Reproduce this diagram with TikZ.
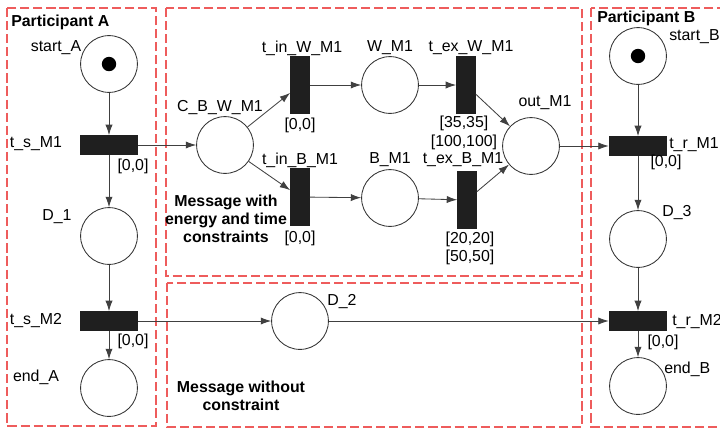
\documentclass[tikz,border=0pt]{standalone}
\usepackage{fontspec}
\setmainfont{Liberation Sans}
\usetikzlibrary{arrows.meta}

\definecolor{zonered}{RGB}{238,92,92}

\tikzset{
  place/.style={circle, draw=black!80, line width=0.6pt, minimum size=1.42cm, inner sep=0pt},
  token/.style={circle, fill=black, minimum size=0.36cm, inner sep=0pt},
  htrans/.style={rectangle, fill=black!88, minimum width=1.45cm, minimum height=0.48cm, inner sep=0pt},
  vtrans/.style={rectangle, fill=black!88, minimum width=0.48cm, minimum height=1.43cm, inner sep=0pt},
  lbl/.style={inner sep=0pt, font=\fontsize{11.3}{13.5}\selectfont},
  zonetitle/.style={inner sep=0pt, font=\fontsize{11.3}{13}\selectfont\bfseries, align=center},
  arc/.style={-{Latex[length=2.6mm,width=1.8mm]}, draw=black!75, line width=0.6pt},
  zone/.style={draw=zonered, line width=0.8pt, dash pattern=on 6.5pt off 2.8pt},
}

\begin{document}
\begin{tikzpicture}[x=0.025cm, y=-0.025cm]
    \clip (0,0) rectangle (720,429);

    % zones
    \draw[zone] (7,8) rectangle (156,426);
    \draw[zone] (166,8) rectangle (582,276);
    \draw[zone] (167,283) rectangle (582,427);
    \draw[zone] (591,8) rectangle (730,427);

    \node[zonetitle, anchor=west] (titleA) at (11,22) {Participant A};
    \node[zonetitle, anchor=west] (titleB) at (597,18) {Participant B};
    \node[zonetitle] (titleMT) at (226,219) {Message with\\energy and time\\constraints};
    \node[zonetitle] (titleMB) at (241,396) {Message without\\constraint};

    % participant A
    \node[place] (start_A) at (109,64) {};
    \node[token] (tok_A) at (start_A) {};
    \node[htrans] (t_s_M1) at (109,145) {};
    \node[place] (D_1) at (109,236) {};
    \node[htrans] (t_s_M2) at (109,321) {};
    \node[place] (end_A) at (109,388) {};

    \node[lbl] (l_start_A) at (56,48) {start\_A};
    \node[lbl] (l_t_s_M1) at (36,144) {t\_s\_M1};
    \node[lbl] (i_t_s_M1) at (133,166) {[0,0]};
    \node[lbl] (l_D_1) at (57,217) {D\_1};
    \node[lbl] (l_t_s_M2) at (36,321) {t\_s\_M2};
    \node[lbl] (i_t_s_M2) at (133,341) {[0,0]};
    \node[lbl] (l_end_A) at (36,377) {end\_A};

    % message with constraints
    \node[place] (C_B_W_M1) at (225,145) {};
    \node[vtrans] (t_in_W_M1) at (300,85) {};
    \node[place] (W_M1) at (390,85) {};
    \node[vtrans] (t_ex_W_M1) at (466,85) {};
    \node[vtrans] (t_in_B_M1) at (300,197) {};
    \node[place] (B_M1) at (390,198) {};
    \node[vtrans] (t_ex_B_M1) at (467,200) {};
    \node[place] (out_M1) at (531,146) {};

    \node[lbl] (l_C_B_W_M1) at (220,108) {C\_B\_W\_M1};
    \node[lbl] (l_t_in_W_M1) at (302,48) {t\_in\_W\_M1};
    \node[lbl] (i_t_in_W_M1) at (300,125) {[0,0]};
    \node[lbl] (l_W_M1) at (390,48) {W\_M1};
    \node[lbl] (l_t_ex_W_M1) at (471,48) {t\_ex\_W\_M1};
    \node[lbl] (i_t_ex_W_M1) at (464,123) {[35,35]};
    \node[lbl] (j_t_ex_W_M1) at (464,142) {[100,100]};
    \node[lbl] (l_t_in_B_M1) at (300,160) {t\_in\_B\_M1};
    \node[lbl] (i_t_in_B_M1) at (300,238) {[0,0]};
    \node[lbl] (l_B_M1) at (390,160) {B\_M1};
    \node[lbl] (l_t_ex_B_M1) at (463,160) {t\_ex\_B\_M1};
    \node[lbl] (i_t_ex_B_M1) at (470,239) {[20,20]};
    \node[lbl] (j_t_ex_B_M1) at (470,257) {[50,50]};
    \node[lbl] (l_out_M1) at (545,103) {out\_M1};

    % message without constraint
    \node[place] (D_2) at (300,321) {};
    \node[lbl] (l_D_2) at (342,302) {D\_2};

    % participant B
    \node[place] (start_B) at (638,56) {};
    \node[token] (tok_B) at (start_B) {};
    \node[htrans] (t_r_M1) at (638,146) {};
    \node[place] (D_3) at (638,239) {};
    \node[htrans] (t_r_M2) at (638,321) {};
    \node[place] (end_B) at (638,386) {};

    \node[lbl, anchor=west] (l_start_B) at (669,37) {start\_B};
    \node[lbl, anchor=west] (l_t_r_M1) at (669,145) {t\_r\_M1};
    \node[lbl] (i_t_r_M1) at (666,162) {[0,0]};
    \node[lbl] (l_D_3) at (677,213) {D\_3};
    \node[lbl, anchor=west] (l_t_r_M2) at (672,322) {t\_r\_M2};
    \node[lbl] (i_t_r_M2) at (663,342) {[0,0]};
    \node[lbl, anchor=west] (l_end_B) at (664,369) {end\_B};

    % arcs
    \draw[arc] (start_A) -- (t_s_M1);
    \draw[arc] (t_s_M1) -- (D_1);
    \draw[arc] (D_1) -- (t_s_M2);
    \draw[arc] (t_s_M2) -- (end_A);
    \draw[arc] (t_s_M1) -- (C_B_W_M1);
    \draw[arc] (t_s_M2) -- (D_2);
    \draw[arc] (D_2) -- (t_r_M2);

    \draw[arc] (C_B_W_M1) -- (t_in_W_M1);
    \draw[arc] (C_B_W_M1) -- (t_in_B_M1);
    \draw[arc] (t_in_W_M1) -- (W_M1);
    \draw[arc] (t_in_B_M1) -- (B_M1);
    \draw[arc] (W_M1) -- (t_ex_W_M1);
    \draw[arc] (B_M1) -- (t_ex_B_M1);
    \draw[arc] (t_ex_W_M1) -- (out_M1);
    \draw[arc] (t_ex_B_M1) -- (out_M1);
    \draw[arc] (out_M1) -- (t_r_M1);

    \draw[arc] (start_B) -- (t_r_M1);
    \draw[arc] (t_r_M1) -- (D_3);
    \draw[arc] (D_3) -- (t_r_M2);
    \draw[arc] (t_r_M2) -- (end_B);
\end{tikzpicture}
\end{document}
